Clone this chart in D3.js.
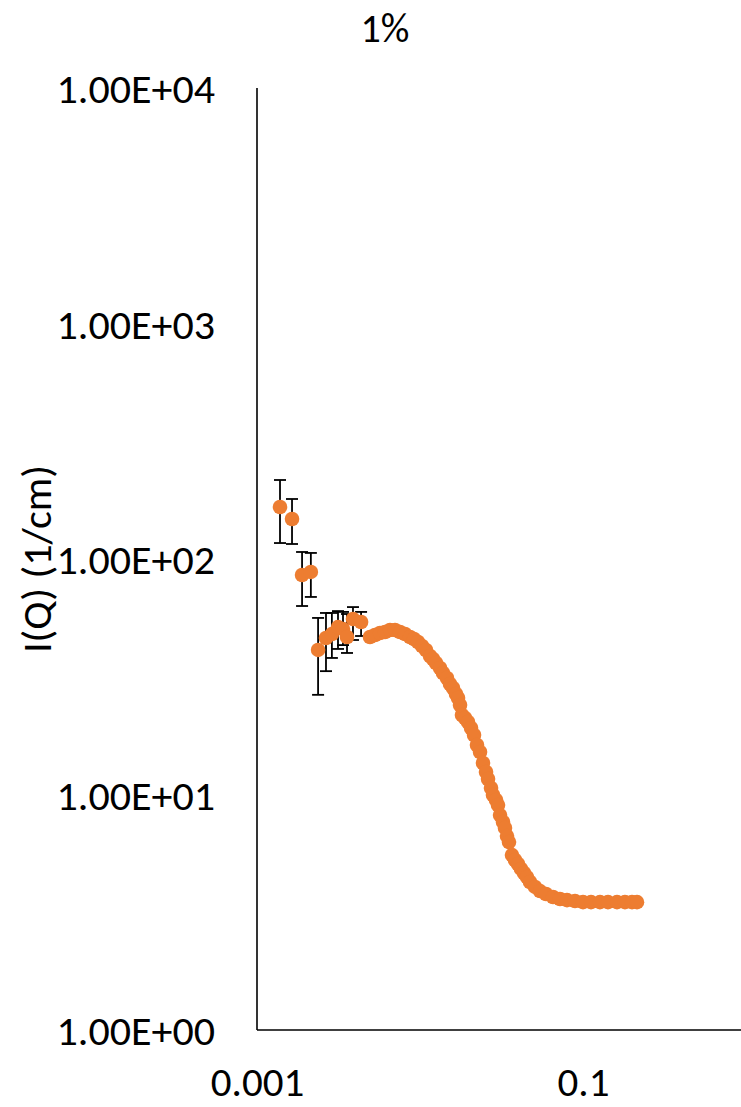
<!DOCTYPE html>
<html>
<head>
<meta charset="utf-8">
<script src="https://cdn.jsdelivr.net/npm/d3@7"></script>
<style>
html,body{margin:0;padding:0;background:#fff;}
svg{display:block;}
text{font-family:Carlito,Calibri,Lato,sans-serif;fill:#000;}
</style>
</head>
<body>
<svg id="chart" width="741" height="1107"></svg>
<script>
// ---- data ----
const title = "1%";
const yTitle = "I(Q) (1/cm)";
const xTickValues = [0.001, 0.1];
const xTickLabels = ["0.001", "0.1"];
const yTickValues = [1, 10, 100, 1000, 10000];
const yTickLabels = ["1.00E+00", "1.00E+01", "1.00E+02", "1.00E+03", "1.00E+04"];

// Q (1/A) and I(Q) (1/cm)
const q = [0.001384, 0.00164, 0.00189, 0.00214, 0.00237, 0.00265, 0.00288, 0.00314, 0.00337, 0.003566, 0.00388, 0.00435,
  0.004934, 0.005297, 0.005684, 0.006101, 0.006546, 0.007025, 0.00754, 0.008092, 0.008683, 0.009187, 0.009721,
  0.01029, 0.01088, 0.01152, 0.01201, 0.01254, 0.01327, 0.01384, 0.01464, 0.01528, 0.01594, 0.01663, 0.01711,
  0.0176, 0.0181, 0.01888, 0.0197, 0.02056, 0.02145, 0.02237, 0.02335, 0.02435, 0.02541, 0.02614, 0.02727,
  0.02805, 0.02926, 0.0301, 0.03097, 0.0323, 0.03322, 0.03418, 0.03516, 0.03668, 0.03827, 0.03993, 0.04166,
  0.04346, 0.04534, 0.0473, 0.05076, 0.05449, 0.05929, 0.06546, 0.07225, 0.07977, 0.0893, 0.1, 0.112,
  0.1271, 0.1423, 0.1617, 0.1809, 0.1998, 0.2144];
const intensity = [166.3, 147.9, 85.5, 88.1, 41.1, 46.2, 48.0, 51.4, 50.4, 46.65, 55.6, 54.0,
  46.65, 47.57, 48.51, 48.98, 49.95, 49.95, 48.98, 48.04, 46.65, 45.75, 44.43,
  42.72, 41.09, 38.74, 37.62, 36.18, 34.45, 32.81, 31.24, 29.46, 28.33, 26.72, 25.69,
  23.99, 21.76, 21.13, 20.32, 19.16, 17.89, 16.23, 15.15, 13.61, 12.46, 11.64, 10.66,
  9.95, 9.48, 9.02, 8.18, 7.64, 7.21, 6.66, 6.28, 5.53, 5.27, 5.07, 4.83,
  4.64, 4.46, 4.25, 4.05, 3.89, 3.78, 3.67, 3.60, 3.56, 3.53, 3.49, 3.49,
  3.49, 3.49, 3.49, 3.49, 3.49, 3.49];
// error bar ends (upper / lower) for the first points; later ones are hidden by markers
const errUpper = [216.5, 179.8, 107.1, 106.1, 56.2, 59.0, 59.0, 60.1, 59.6, 58.4, 62.5, 59.6];
const errLower = [116.9, 115.8, 63.15, 69.0, 26.5, 33.4, 38.0, 41.5, 43.1, 39.9, 45.3, 47.1];

// ---- drawing ----
const W = 741, H = 1107;
const svg = d3.select("#chart");
const x = d3.scaleLog().domain([0.001, 0.1]).range([257, 583]);
const y = d3.scaleLog().domain([1, 10000]).range([1030, 88]);

const points = q.map((v, i) => ({q: v, I: intensity[i], hi: errUpper[i], lo: errLower[i]}));

// axis lines
svg.append("line").attr("x1", x(0.001)).attr("x2", x(0.001)).attr("y1", y(10000)).attr("y2", y(1))
  .attr("stroke", "#000").attr("stroke-width", 1.6);
svg.append("line").attr("x1", x(0.001)).attr("x2", W).attr("y1", y(1)).attr("y2", y(1))
  .attr("stroke", "#000").attr("stroke-width", 1.6);

// y axis labels
const yAxis = d3.axisLeft(y).tickValues(yTickValues).tickSize(0).tickPadding(0)
  .tickFormat((d, i) => yTickLabels[i]);
const gy = svg.append("g").attr("transform", `translate(215,0)`).call(yAxis);
gy.select(".domain").remove();
gy.selectAll("text").attr("font-size", 42).attr("dy", "0.35em")
  .style("font-family", "Carlito,Calibri,Lato,sans-serif");

// x axis labels
const xAxis = d3.axisBottom(x).tickValues(xTickValues).tickSize(0).tickPadding(0)
  .tickFormat((d, i) => xTickLabels[i]);
const gx = svg.append("g").attr("transform", `translate(0,1082)`).call(xAxis);
gx.select(".domain").remove();
gx.selectAll("text").attr("font-size", 41).attr("dy", "0.33em").attr("y", 0)
  .style("font-family", "Carlito,Calibri,Lato,sans-serif");

// title
svg.append("text").attr("x", 385).attr("y", 28).attr("dy", "0.35em")
  .attr("text-anchor", "middle").attr("font-size", 40).text(title);

// y title
svg.append("text").attr("transform", "translate(36,559) rotate(-90)")
  .attr("text-anchor", "middle").attr("dy", "0.35em").attr("font-size", 42).text(yTitle);

// error bars
const eb = svg.append("g").attr("stroke", "#000").attr("stroke-width", 1.8);
const withErr = points.filter(d => d.hi != null);
eb.selectAll("line.v").data(withErr).join("line").attr("class", "v")
  .attr("x1", d => x(d.q)).attr("x2", d => x(d.q)).attr("y1", d => y(d.hi)).attr("y2", d => y(d.lo));
eb.selectAll("line.t").data(withErr).join("line").attr("class", "t")
  .attr("x1", d => x(d.q) - 6).attr("x2", d => x(d.q) + 6).attr("y1", d => y(d.hi)).attr("y2", d => y(d.hi));
eb.selectAll("line.b").data(withErr).join("line").attr("class", "b")
  .attr("x1", d => x(d.q) - 6).attr("x2", d => x(d.q) + 6).attr("y1", d => y(d.lo)).attr("y2", d => y(d.lo));

// markers
svg.append("g").selectAll("circle").data(points).join("circle")
  .attr("cx", d => x(d.q)).attr("cy", d => y(d.I)).attr("r", 7.3)
  .attr("fill", "#ED7D31");
</script>
</body>
</html>
